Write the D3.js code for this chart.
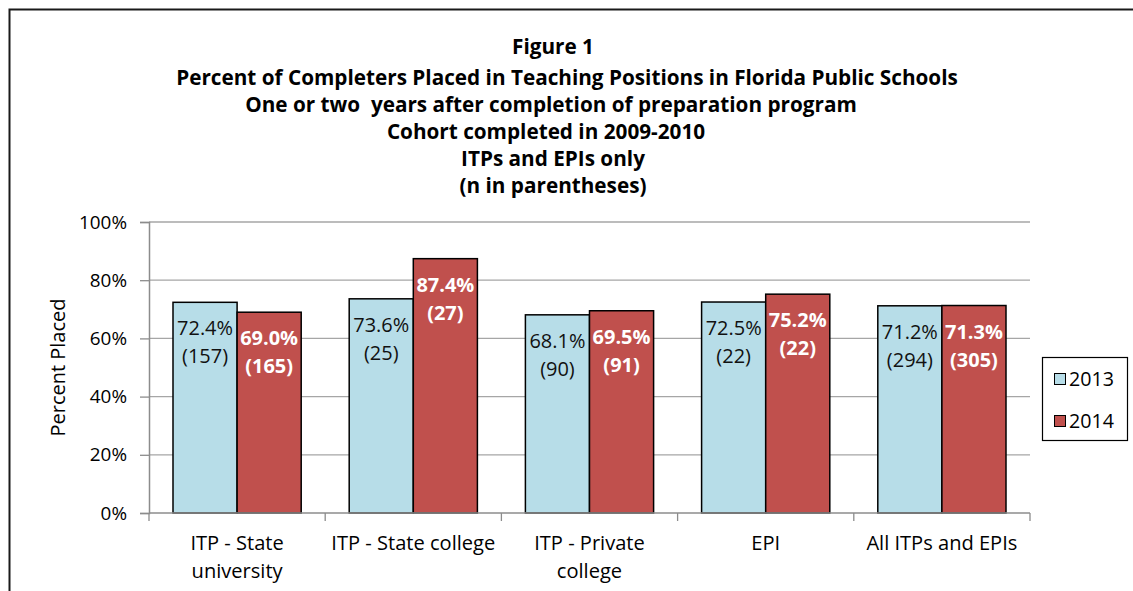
<!DOCTYPE html>
<html>
<head>
<meta charset="utf-8">
<script src="https://cdn.jsdelivr.net/npm/d3@7"></script>
<style>
  body { margin: 0; background: #fff; }
  svg { display: block; font-family: "Open Sans", Lato, sans-serif; }
</style>
</head>
<body>
<div id="chart"></div>
<script>
// chart data
const categories = ["ITP - State\nuniversity", "ITP - State college", "ITP - Private\ncollege", "EPI", "All ITPs and EPIs"];
const series = ["2013", "2014"];
const pct2013 = [72.4, 73.6, 68.1, 72.5, 71.2];
const pct2014 = [69.0, 87.4, 69.5, 75.2, 71.3];
const n2013 = [157, 25, 90, 22, 294];
const n2014 = [165, 27, 91, 22, 305];
const yTicks = [0, 20, 40, 60, 80, 100];
const titleLines = [
  "Figure 1",
  "Percent of Completers Placed in Teaching Positions in Florida Public Schools",
  "One or two  years after completion of preparation program",
  "Cohort completed in 2009-2010",
  "ITPs and EPIs only",
  "(n in parentheses)"
];

const colors = { "2013": "#b7dde8", "2014": "#c0504d" };
const W = 1133, H = 591;
const plot = { left: 149, right: 1030, top: 222, bottom: 513 };

const svg = d3.select("#chart").append("svg")
  .attr("width", W)
  .attr("height", H);

// pick a font size so a sample string comes out at the width seen in the picture
function fitSize(sample, width, weight) {
  const t = svg.append("text")
    .attr("font-size", 100)
    .attr("font-weight", weight || "normal")
    .text(sample);
  const w = t.node().getComputedTextLength();
  t.remove();
  return 100 * width / w;
}
const fsTitle = fitSize(titleLines[1], 782, "bold");
const fsCat = fitSize("ITP - State college", 164);
const fsTick = fitSize("100%", 48);
const fsVal = fitSize("72.4%", 56);
const fsAxisTitle = fitSize("Percent Placed", 138);
const fsLegend = fitSize("2013", 45);

// outer frame (runs off the right/bottom of the picture)
svg.append("rect")
  .attr("x", 9.5).attr("y", 9.5)
  .attr("width", W + 20).attr("height", H + 20)
  .attr("fill", "#fff")
  .attr("stroke", "#1a1a1a")
  .attr("stroke-width", 2);

// title
const titleY = [47, 78, 105, 132, 159, 186];
const titleX = [553, 567, 551, 546, 553, 553];
svg.append("g").selectAll("text")
  .data(titleLines)
  .join("text")
    .attr("x", (d, i) => titleX[i])
    .attr("y", (d, i) => titleY[i])
    .attr("dy", "0.35em")
    .attr("text-anchor", "middle")
    .attr("font-weight", "bold")
    .attr("font-size", fsTitle)
    .attr("fill", "#000")
    .style("white-space", "pre")
    .text(d => d);

const rows = categories.map((c, i) => ({
  cat: c,
  values: [
    { key: "2013", pct: pct2013[i], n: n2013[i] },
    { key: "2014", pct: pct2014[i], n: n2014[i] }
  ]
}));

const x0 = d3.scaleBand().domain(categories).range([plot.left, plot.right]);
const x1 = d3.scaleBand().domain(series).range([24, x0.bandwidth() - 24]);
const y = d3.scaleLinear().domain([0, 100]).range([plot.bottom, plot.top]);

// gridlines
svg.append("g").selectAll("line")
  .data(yTicks.filter(t => t > 0))
  .join("line")
    .attr("x1", plot.left).attr("x2", plot.right)
    .attr("y1", d => y(d)).attr("y2", d => y(d))
    .attr("stroke", "#a6a6a6")
    .attr("stroke-width", 1.3);

// y axis
const yAxis = svg.append("g")
  .attr("transform", "translate(" + plot.left + ",0)")
  .call(d3.axisLeft(y).tickValues(yTicks).tickFormat(d => d + "%").tickSize(9).tickPadding(13));
yAxis.select(".domain").attr("stroke", "#8c8c8c").attr("stroke-width", 1.5);
yAxis.selectAll(".tick line").attr("stroke", "#8c8c8c").attr("stroke-width", 1.3);
yAxis.selectAll(".tick text")
  .attr("font-size", fsTick)
  .attr("font-family", "'Open Sans', sans-serif")
  .attr("fill", "#000");

svg.append("text")
  .attr("transform", "translate(58," + ((plot.top + plot.bottom) / 2) + ") rotate(-90)")
  .attr("text-anchor", "middle")
  .attr("dy", "0.35em")
  .attr("font-size", fsAxisTitle)
  .text("Percent Placed");

// bars
const groups = svg.append("g").selectAll("g")
  .data(rows)
  .join("g")
    .attr("transform", d => "translate(" + x0(d.cat) + ",0)");

groups.selectAll("rect")
  .data(d => d.values)
  .join("rect")
    .attr("x", d => x1(d.key))
    .attr("y", d => y(d.pct))
    .attr("width", x1.bandwidth())
    .attr("height", d => y(0) - y(d.pct))
    .attr("fill", d => colors[d.key])
    .attr("stroke", "#000")
    .attr("stroke-width", 1.5);

// value labels
const lbl = groups.selectAll("text.lbl")
  .data(d => d.values)
  .join("text")
    .attr("class", "lbl")
    .attr("text-anchor", "middle")
    .attr("font-size", fsVal)
    .attr("font-weight", d => d.key === "2014" ? "bold" : "normal")
    .attr("fill", d => d.key === "2014" ? "#fff" : "#111");
lbl.append("tspan")
  .attr("x", d => x1(d.key) + x1.bandwidth() / 2)
  .attr("y", d => y(d.pct) + 26)
  .attr("dy", "0.35em")
  .text(d => d.pct.toFixed(1) + "%");
lbl.append("tspan")
  .attr("x", d => x1(d.key) + x1.bandwidth() / 2)
  .attr("y", d => y(d.pct) + 54)
  .attr("dy", "0.35em")
  .text(d => "(" + d.n + ")");

// x axis baseline and ticks
const xAxis = svg.append("g");
xAxis.append("line")
  .attr("x1", plot.left).attr("x2", plot.right)
  .attr("y1", plot.bottom).attr("y2", plot.bottom)
  .attr("stroke", "#8c8c8c").attr("stroke-width", 1.5);
xAxis.selectAll("line.tick")
  .data(categories.map(c => x0(c)).concat([plot.right]))
  .join("line")
    .attr("class", "tick")
    .attr("x1", d => d).attr("x2", d => d)
    .attr("y1", plot.bottom).attr("y2", plot.bottom + 8)
    .attr("stroke", "#8c8c8c").attr("stroke-width", 1.3);
xAxis.selectAll("text")
  .data(categories)
  .join("text")
    .attr("text-anchor", "middle")
    .attr("font-size", fsCat)
    .attr("fill", "#000")
    .each(function (d) {
      const t = d3.select(this);
      d.split("\n").forEach((line, k) => {
        t.append("tspan")
          .attr("x", x0(d) + x0.bandwidth() / 2)
          .attr("y", 543 + k * 28)
          .attr("dy", "0.35em")
          .text(line);
      });
    });

// legend
const legend = svg.append("g");
legend.append("rect")
  .attr("x", 1042.5).attr("y", 357.5)
  .attr("width", 85).attr("height", 83)
  .attr("fill", "#fff").attr("stroke", "#000").attr("stroke-width", 1.2);
const li = legend.selectAll("g")
  .data(series)
  .join("g")
    .attr("transform", (d, i) => "translate(1054," + (379 + i * 42) + ")");
li.append("rect")
  .attr("x", 0.5).attr("y", -5.5)
  .attr("width", 11).attr("height", 11)
  .attr("fill", d => colors[d])
  .attr("stroke", "#000").attr("stroke-width", 1);
li.append("text")
  .attr("x", 15)
  .attr("dy", "0.35em")
  .attr("font-size", fsLegend)
  .text(d => d);
</script>
</body>
</html>
